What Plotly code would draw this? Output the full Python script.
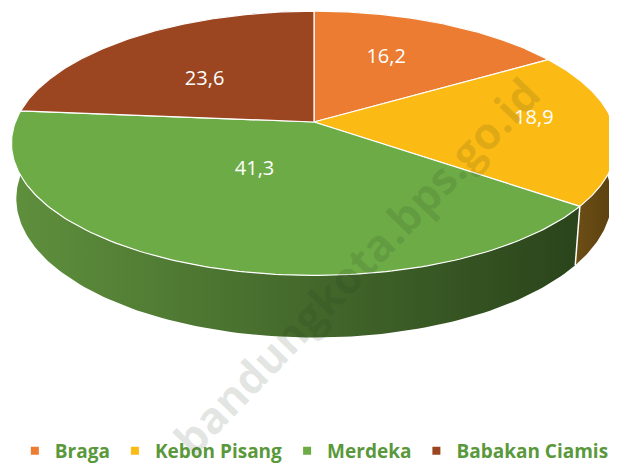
import numpy as np
import plotly.graph_objects as go

# ---- data ----
categories = ["Braga", "Kebon Pisang", "Merdeka", "Babakan Ciamis"]
values = [16.2, 18.9, 41.3, 23.6]
value_labels = ["16,2", "18,9", "41,3", "23,6"]

# ---- style ----
top_colors = ["#EC7C31", "#FBBA14", "#6DAB46", "#9C4621"]
wall_grad = [("#C2621F", "#9A4A14"), ("#7A5A1A", "#5A3F0E"),
             ("#5F903D", "#2A441B"), ("#7F3818", "#62290F")]
label_r = [0.60, 0.74, 0.40, 0.52]
label_dphi_deg = [-3.2, -4.3, 7.3, -5.6]
legend_color = "#5A993B"

# the page places the figure 8px in from the window's corner
OFF = 8
WIN_W, WIN_H = 617, 466
W, H = WIN_W - OFF, WIN_H - OFF

# projection of a tilted 3D disc (perspective), in window pixel units
CX, CY, K, D = 314.0, 122.0, 1672.0, 5.6
ALPHA = np.arcsin(0.431)
S, C = np.sin(ALPHA), np.cos(ALPHA)
THICK = 0.206


def proj(X, Y, Z):
    X, Y, Z = np.asarray(X, float), np.asarray(Y, float), np.asarray(Z, float)
    depth = Y * C - Z * S + D
    v = Y * S + Z * C
    return CX + K * X / depth, CY - K * v / depth


total = sum(values)
bounds = np.concatenate([[0], np.cumsum(values)]) / total * 2 * np.pi

fig = go.Figure()

# walls
for i in range(len(values)):
    phi = np.linspace(bounds[i], bounds[i + 1], 120)
    xt, yt = proj(np.sin(phi), np.cos(phi), np.zeros_like(phi))
    xb, yb = proj(np.sin(phi), np.cos(phi), -THICK * np.ones_like(phi))
    xs = np.concatenate([xt, xb[::-1], xt[:1]])
    ys = np.concatenate([yt, yb[::-1], yt[:1]])
    fig.add_trace(go.Scatter(
        x=xs, y=ys, mode="lines", fill="toself",
        line=dict(width=0, color="rgba(0,0,0,0)"),
        fillgradient=dict(type="horizontal",
                          colorscale=[[0, wall_grad[i][0]], [1, wall_grad[i][1]]]),
        hoverinfo="skip", showlegend=False))

# white seams between walls
for b in bounds[1:-1]:
    xs, ys = proj([np.sin(b)] * 2, [np.cos(b)] * 2, [0, -THICK])
    fig.add_trace(go.Scatter(x=xs, y=ys, mode="lines",
                             line=dict(color="white", width=1.5),
                             hoverinfo="skip", showlegend=False))

# top faces
for i in range(len(values)):
    phi = np.linspace(bounds[i], bounds[i + 1], 150)
    X = np.concatenate([[0], np.sin(phi), [0]])
    Y = np.concatenate([[0], np.cos(phi), [0]])
    xs, ys = proj(X, Y, np.zeros_like(X))
    fig.add_trace(go.Scatter(
        x=xs, y=ys, mode="lines", fill="toself", fillcolor=top_colors[i],
        line=dict(color="white", width=1.2),
        name=categories[i], hoverinfo="name", showlegend=False))

# data labels
mids = (bounds[:-1] + bounds[1:]) / 2 + np.radians(label_dphi_deg)
r = np.array(label_r)
lx, ly = proj(r * np.sin(mids), r * np.cos(mids), np.zeros(len(mids)))
fig.add_trace(go.Scatter(
    x=lx, y=ly, mode="text", text=value_labels,
    textfont=dict(family="Open Sans", size=20, color="white"),
    hoverinfo="skip", showlegend=False))

# legend entries
for cat, col in zip(categories, top_colors):
    fig.add_trace(go.Scatter(
        x=[None], y=[None], mode="markers", name=cat,
        marker=dict(symbol="square", size=8, color=col)))

# watermark
fig.add_annotation(
    x=356, y=266, xref="x", yref="y", text="bandungkota.bps.go.id",
    showarrow=False, textangle=-46,
    font=dict(family="Open Sans", size=44, color="rgba(30,50,30,0.12)", weight="bold"))

fig.update_layout(
    width=W, height=H,
    margin=dict(l=0, r=0, t=0, b=0, autoexpand=False),
    paper_bgcolor="white", plot_bgcolor="white",
    xaxis=dict(range=[OFF, WIN_W], visible=False, fixedrange=True),
    yaxis=dict(range=[WIN_H, OFF], visible=False, fixedrange=True),
    showlegend=True,
    legend=dict(orientation="h", x=0.503, xanchor="center",
                xref="container", yref="container",
                y=(WIN_H - 451) / H, yanchor="middle",
                font=dict(family="Open Sans", size=19, color=legend_color, weight=700),
                itemwidth=30, bgcolor="rgba(0,0,0,0)"),
)

fig.write_html("out.html")
